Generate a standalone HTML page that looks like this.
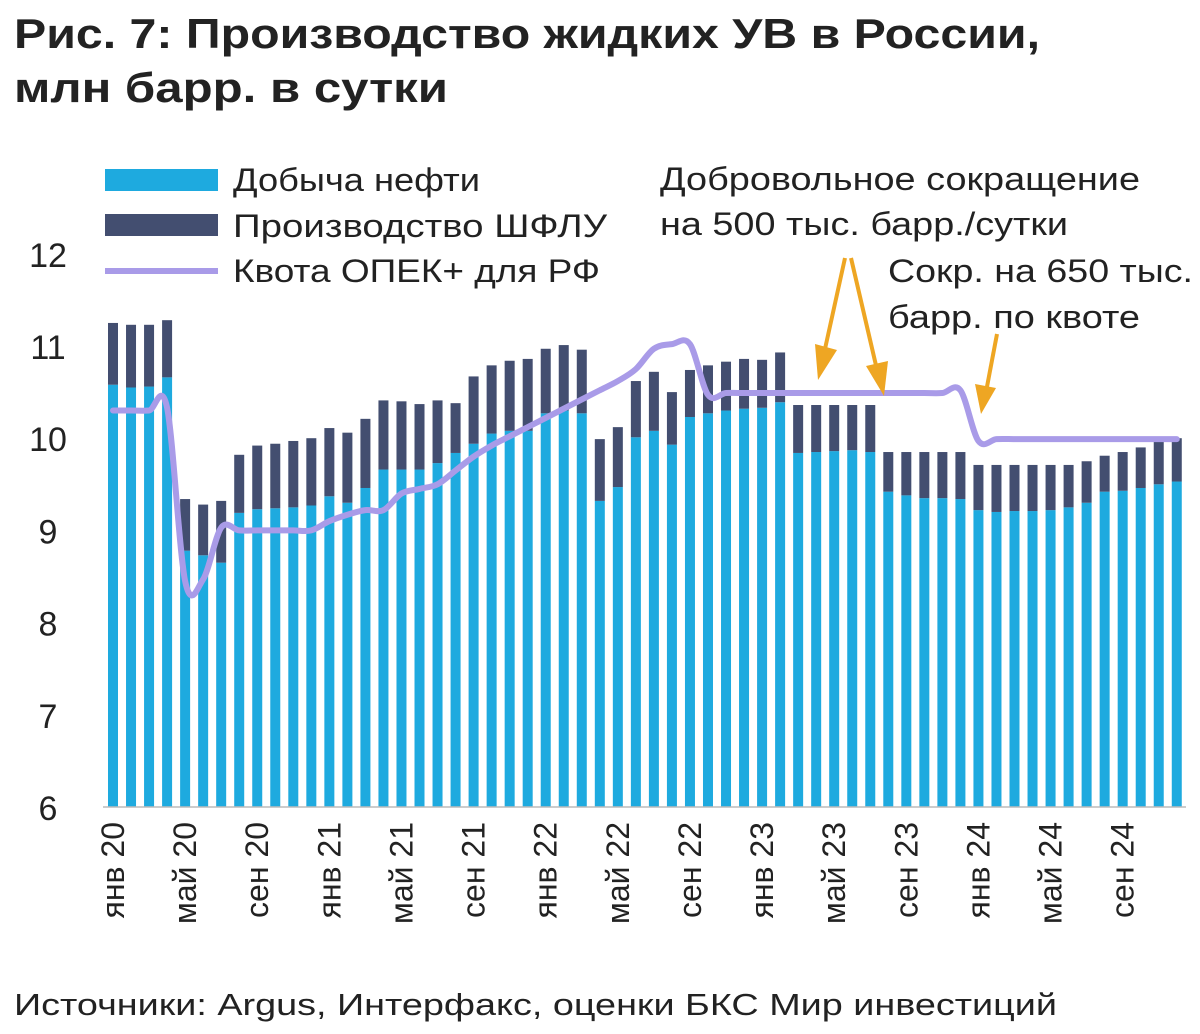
<!DOCTYPE html>
<html><head><meta charset="utf-8"><style>
body{margin:0;background:#fff;font-family:"Liberation Sans",sans-serif;}
svg text{font-family:"Liberation Sans",sans-serif;}
</style></head><body>
<svg width="1200" height="1029" xmlns="http://www.w3.org/2000/svg" id="chart">
<text x="14" y="48" font-size="42" font-weight="bold" fill="#222" textLength="1026" lengthAdjust="spacingAndGlyphs">Рис. 7: Производство жидких УВ в России,</text>
<text x="14" y="102" font-size="42" font-weight="bold" fill="#222" textLength="434" lengthAdjust="spacingAndGlyphs">млн барр. в сутки</text>
<g id="legend">
<rect x="105" y="169" width="113" height="22" fill="#1eaadf"/>
<text x="233" y="191" font-size="32" fill="#222" textLength="247" lengthAdjust="spacingAndGlyphs">Добыча нефти</text>
<rect x="105" y="214" width="113" height="22" fill="#434e70"/>
<text x="233" y="237" font-size="32" fill="#222" textLength="374" lengthAdjust="spacingAndGlyphs">Производство ШФЛУ</text>
<line x1="105" y1="271" x2="218" y2="271" stroke="#a99be8" stroke-width="6"/>
<text x="233" y="282" font-size="32" fill="#222" textLength="367" lengthAdjust="spacingAndGlyphs">Квота ОПЕК+ для РФ</text>
</g>
<text x="660" y="190" font-size="32" fill="#222" textLength="480" lengthAdjust="spacingAndGlyphs">Добровольное сокращение</text>
<text x="660" y="235" font-size="32" fill="#222" textLength="408" lengthAdjust="spacingAndGlyphs">на 500 тыс. барр./сутки</text>
<text x="888" y="282" font-size="32" fill="#222" textLength="305" lengthAdjust="spacingAndGlyphs">Сокр. на 650 тыс.</text>
<text x="888" y="328" font-size="32" fill="#222" textLength="252" lengthAdjust="spacingAndGlyphs">барр. по квоте</text>
<g id="yaxis"></g>
<g id="bars"></g>
<g id="line"></g>
<g id="xaxis"></g>
<g fill="#eea623" stroke="#eea623">
<line x1="845" y1="258" x2="823" y2="358" stroke-width="4"/>
<polygon points="815,344 837,350 818,380" stroke="none"/>
<line x1="851" y1="258" x2="878" y2="374" stroke-width="4"/>
<polygon points="866,366 888,361 884,396" stroke="none"/>
<line x1="997" y1="334" x2="986" y2="392" stroke-width="4"/>
<polygon points="975,384 996,388 981,414" stroke="none"/>
</g>
<text x="14" y="1015" font-size="31" fill="#222" textLength="1043" lengthAdjust="spacingAndGlyphs">Источники: Argus, Интерфакс, оценки БКС Мир инвестиций</text>
</svg>
<script>
const months = ["янв 20","фев 20","мар 20","апр 20","май 20","июн 20","июл 20","авг 20","сен 20","окт 20","ноя 20","дек 20","янв 21","фев 21","мар 21","апр 21","май 21","июн 21","июл 21","авг 21","сен 21","окт 21","ноя 21","дек 21","янв 22","фев 22","мар 22","апр 22","май 22","июн 22","июл 22","авг 22","сен 22","окт 22","ноя 22","дек 22","янв 23","фев 23","мар 23","апр 23","май 23","июн 23","июл 23","авг 23","сен 23","окт 23","ноя 23","дек 23","янв 24","фев 24","мар 24","апр 24","май 24","июн 24","июл 24","авг 24","сен 24","окт 24","ноя 24","дек 24"];
const oil = [10.58,10.55,10.56,10.66,8.78,8.73,8.65,9.19,9.23,9.24,9.25,9.27,9.37,9.30,9.46,9.66,9.66,9.66,9.73,9.84,9.94,10.05,10.08,10.08,10.27,10.30,10.27,9.32,9.47,10.01,10.08,9.93,10.23,10.27,10.30,10.32,10.33,10.39,9.84,9.85,9.86,9.87,9.85,9.42,9.38,9.35,9.35,9.34,9.22,9.20,9.21,9.21,9.22,9.25,9.30,9.42,9.43,9.46,9.50,9.53];
const total = [11.25,11.23,11.23,11.28,9.34,9.28,9.32,9.82,9.92,9.94,9.97,10.00,10.11,10.06,10.21,10.41,10.40,10.37,10.41,10.38,10.67,10.79,10.84,10.86,10.97,11.01,10.96,9.99,10.12,10.62,10.72,10.50,10.74,10.79,10.83,10.86,10.85,10.93,10.36,10.36,10.36,10.36,10.36,9.85,9.85,9.85,9.85,9.85,9.71,9.71,9.71,9.71,9.71,9.71,9.75,9.81,9.85,9.90,9.96,10.00];
const quota = [10.30,10.30,10.30,10.33,8.45,8.47,9.03,9.00,9.00,9.00,9.00,9.00,9.10,9.17,9.22,9.22,9.40,9.45,9.50,9.65,9.80,9.92,10.02,10.12,10.22,10.32,10.42,10.52,10.62,10.75,10.97,11.02,11.02,10.47,10.49,10.49,10.49,10.49,10.49,10.49,10.49,10.49,10.49,10.49,10.49,10.49,10.49,10.52,9.97,9.99,9.99,9.99,9.99,9.99,9.99,9.99,9.99,9.99,9.99,9.99];
const yTicks = [6,7,8,9,10,11,12];
const NS="http://www.w3.org/2000/svg";
const y = v => 807 - 92.2*(v-6);
const x = i => 113 + i*18.03;
function mk(tag, attrs, parent){const e=document.createElementNS(NS,tag);for(const k in attrs)e.setAttribute(k,attrs[k]);parent.appendChild(e);return e;}
const ya=document.getElementById('yaxis');
yTicks.forEach(t=>{const e=mk('text',{x:48,y:y(t)+13,'font-size':34,'text-anchor':'middle',fill:'#222'},ya);


e.textContent=t;});
const bg=document.getElementById('bars');
months.forEach((m,i)=>{
const b1=mk('rect',{x:x(i)-5,y:y(oil[i]),width:10,height:y(6)-y(oil[i]),fill:'#1eaadf'},bg);


const b2=mk('rect',{x:x(i)-5,y:y(total[i]),width:10,height:y(oil[i])-y(total[i]),fill:'#434e70'},bg);


});
const base=mk('line',{x1:103,x2:1186,y1:807,y2:807,stroke:'#bbb','stroke-width':1.5},bg);


const pts=quota.map((v,i)=>[x(i),y(v)]);
let d='M'+pts[0][0]+','+pts[0][1];
for(let i=0;i<pts.length-1;i++){const p0=pts[Math.max(0,i-1)],p1=pts[i],p2=pts[i+1],p3=pts[Math.min(pts.length-1,i+2)];
const c1=[p1[0]+(p2[0]-p0[0])/6,p1[1]+(p2[1]-p0[1])/6],c2=[p2[0]-(p3[0]-p1[0])/6,p2[1]-(p3[1]-p1[1])/6];
d+=` C${c1[0]},${c1[1]} ${c2[0]},${c2[1]} ${p2[0]},${p2[1]}`;}
const ln=mk('path',{d:d,fill:'none',stroke:'#a99be8','stroke-width':6,'stroke-linejoin':'round','stroke-linecap':'round'},document.getElementById('line'));


const xa=document.getElementById('xaxis');
months.forEach((m,i)=>{if(i%4)return;
const t=mk('text',{x:0,y:0,'font-size':32,'text-anchor':'end',fill:'#222',transform:`translate(${x(i)+11},822) rotate(-90)`},xa);


t.textContent=m;});
</script>
</body></html>
